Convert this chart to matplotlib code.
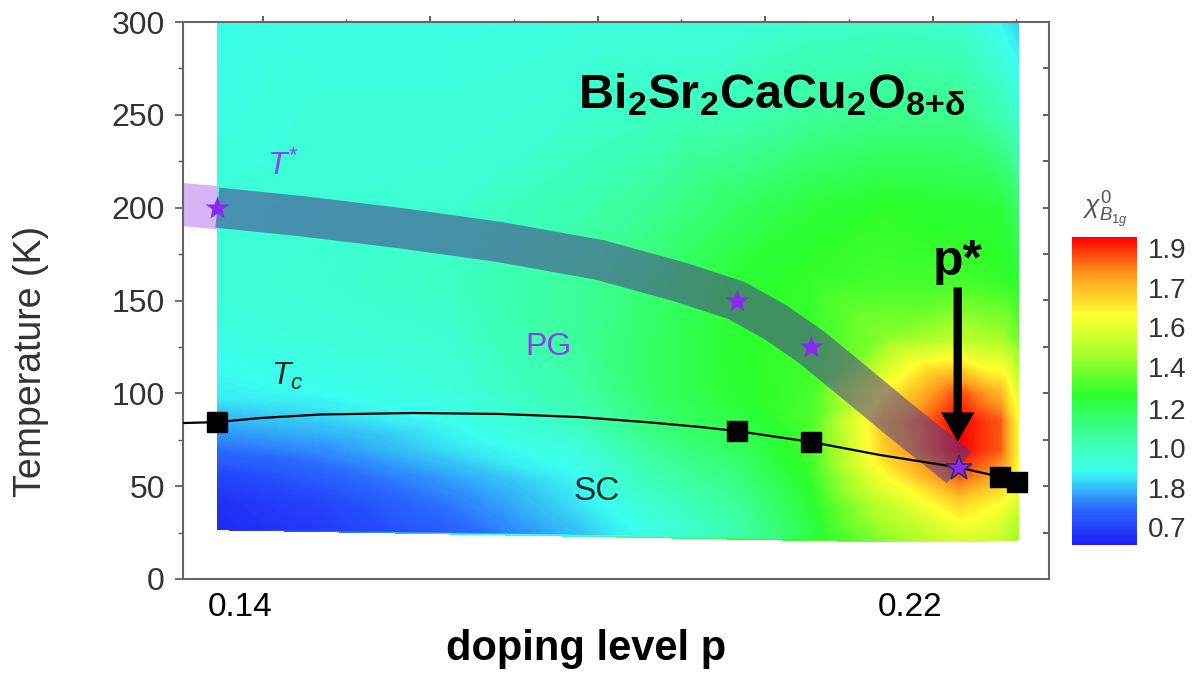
import numpy as np
import matplotlib.pyplot as plt
import matplotlib.tri as mtri
from matplotlib.colors import LinearSegmentedColormap
from matplotlib.ticker import MultipleLocator

plt.rcParams['font.family'] = ['Liberation Sans', 'DejaVu Sans']
plt.rcParams['mathtext.fontset'] = 'custom'
plt.rcParams['mathtext.rm'] = 'Liberation Sans'
plt.rcParams['mathtext.it'] = 'Liberation Sans:italic'
plt.rcParams['mathtext.bf'] = 'Liberation Sans:bold'

# chi_B1g map: doping columns, temperature rows (first row = lowest measured T per column)
chi_p = [0.1373, 0.150, 0.165, 0.180, 0.190, 0.1993, 0.2082, 0.217, 0.2259, 0.2308, 0.2329]
chi_bottom = [26.5, 26, 25, 24, 23, 22, 21, 20, 20, 21, 21]
chi_T = [40, 55, 70, 85, 100, 130, 160, 200, 250, 300]
# one list per doping column, from lowest T upward
chi_cols = [
    [0.63, 0.64, 0.68, 0.77, 0.85, 0.92, 0.96, 0.98, 0.98, 0.96, 0.95],
    [0.66, 0.68, 0.74, 0.81, 0.88, 0.94, 0.98, 1.00, 0.99, 0.98, 0.96],
    [0.74, 0.78, 0.83, 0.90, 0.94, 0.97, 1.00, 1.02, 1.00, 0.98, 0.96],
    [0.86, 0.90, 0.93, 0.97, 1.03, 1.07, 1.10, 1.10, 1.06, 1.00, 0.97],
    [0.96, 1.00, 1.06, 1.12, 1.17, 1.20, 1.20, 1.18, 1.12, 1.03, 0.97],
    [1.06, 1.10, 1.15, 1.20, 1.24, 1.27, 1.28, 1.27, 1.20, 1.05, 0.98],
    [1.24, 1.27, 1.30, 1.32, 1.33, 1.32, 1.30, 1.30, 1.26, 1.10, 1.01],
    [1.42, 1.52, 1.64, 1.74, 1.76, 1.66, 1.42, 1.32, 1.29, 1.13, 1.02],
    [1.56, 1.72, 1.90, 2.00, 2.00, 1.92, 1.50, 1.32, 1.27, 1.13, 1.00],
    [1.52, 1.64, 1.78, 1.90, 1.90, 1.78, 1.46, 1.30, 1.26, 1.06, 0.93],
    [1.44, 1.54, 1.62, 1.66, 1.65, 1.58, 1.38, 1.27, 1.19, 1.00, 0.88],
]

# Tc dome (black line) and measured Tc points
tc_p = [0.1300, 0.1332, 0.1373, 0.1424, 0.1496, 0.1607, 0.1710, 0.1806, 0.1890,
        0.1949, 0.1993, 0.2082, 0.2164, 0.2259, 0.2308, 0.2328]
tc_T = [83.2, 84.0, 84.5, 86.7, 88.6, 89.4, 88.9, 87.2, 84.3,
        81.9, 79.7, 73.8, 66.8, 60.0, 55.0, 52.2]
sq_p = [0.1373, 0.1993, 0.2082, 0.2308, 0.2328]
sq_T = [84.5, 79.7, 73.8, 55.0, 52.2]

# T* band centre line and T* points (last one is p*)
band_p = [0.1300, 0.1373, 0.1472, 0.1591, 0.1710, 0.1830, 0.1925, 0.1993,
          0.2039, 0.2082, 0.2128, 0.2188, 0.2259]
band_T = [203, 200, 195.5, 189, 181.5, 171.8, 160, 150, 138.4, 125, 108, 85.6, 60]
star_p = [0.1373, 0.1993, 0.2082, 0.2259]
star_T = [200, 150, 125, 60]

cbar_tick_pos = [0.68, 0.86, 1.04, 1.22, 1.41, 1.59, 1.77, 1.95]
cbar_labels = ['0.7', '1.8', '1.0', '1.2', '1.4', '1.6', '1.7', '1.9']

cmap = LinearSegmentedColormap.from_list('chi', [
    (0.00, '#1e1ef5'), (0.12, '#2a6cff'), (0.24, '#3cfff0'), (0.36, '#3cff9a'),
    (0.49, '#2cff2c'), (0.62, '#a8ff2a'), (0.75, '#ffff30'), (0.88, '#ff9a1e'),
    (1.00, '#ff0000')])

fig = plt.figure(figsize=(11.93, 6.74), dpi=100)
ax = fig.add_axes([183 / 1193, 95 / 674, 866 / 1193, 557 / 674])
cax = fig.add_axes([1072 / 1193, 129 / 674, 65 / 1193, 308 / 674])

pp, tt, vv = [], [], []
for j, p in enumerate(chi_p):
    for i, t in enumerate([chi_bottom[j]] + chi_T):
        pp.append(p)
        tt.append(t)
        vv.append(chi_cols[j][i])
pp, tt, vv = np.array(pp), np.array(tt), np.array(vv)
# triangulate in screen-like units so triangles are not squashed
tri = mtri.Triangulation(pp * 8375, tt * 1.857)
tri = mtri.Triangulation(pp, tt, tri.triangles)
cs = ax.tricontourf(tri, vv, levels=np.linspace(0.6, 2.0, 281), cmap=cmap, zorder=1)

# T* band: light part outside the map, translucent part on top of it
ax.plot(band_p, band_T, color='#d6b4f6', lw=31, solid_capstyle='butt',
        solid_joinstyle='round', zorder=0.5)
ax.plot(band_p[1:], band_T[1:], color=(0.30, 0.22, 0.55), alpha=0.55, lw=29,
        solid_capstyle='butt', solid_joinstyle='round', zorder=2)

ax.plot(tc_p, tc_T, color='k', lw=1.6, zorder=3)
ax.plot(sq_p, sq_T, 's', color='k', ms=14, zorder=4)
ax.plot(star_p[:-1], star_T[:-1], '*', color='#8a2af0', ms=18, mec='none', zorder=5)
ax.plot(star_p[-1:], star_T[-1:], '*', color='#8a2af0', ms=19, mec='#3b2a66',
        mew=1.2, zorder=5)

# arrow marking p*
ax.annotate('', xy=(star_p[-1] - 0.0002, star_T[-1] + 14),
            xytext=(star_p[-1] - 0.0002, star_T[-1] + 97),
            arrowprops=dict(arrowstyle='simple,head_length=0.7,head_width=0.8,tail_width=0.2',
                            color='k', lw=0, shrinkA=0, shrinkB=0, mutation_scale=30),
            zorder=6)
ax.text(star_p[-1] - 0.0002, 171, 'p*', fontsize=36, fontweight='bold',
        ha='center', va='center', zorder=6)

ax.text(0.456, 0.846, r'$\mathbf{Bi_2Sr_2CaCu_2O_{8{+}\delta}}$', transform=ax.transAxes,
        fontsize=35, ha='left', va='baseline', zorder=6)
ax.text(0.1451, 222, r'$T^{*}$', fontsize=23, color='#8b45f0', ha='center', va='center')
ax.text(0.1456, 109, r'$T_c$', fontsize=23, color='#1a2a2a', ha='center', va='center')
ax.text(0.1768, 125, 'PG', fontsize=23, color='#8a3cf0', ha='center', va='center')
ax.text(0.1826, 47, 'SC', fontsize=24, color='#1a2a30', ha='center', va='center')

ax.set_xlim(0.1332, 0.2366)
ax.set_ylim(0, 300)
ax.set_yticks(range(0, 301, 50))
ax.yaxis.set_minor_locator(MultipleLocator(25))
ax.tick_params(axis='y', which='major', direction='out', length=6, width=1.2,
               color='#555555', labelsize=23, labelcolor='#333333', pad=7)
ax.tick_params(axis='y', which='minor', direction='out', length=3.5, width=1.0, color='#555555')
ax.set_xticks([0.14, 0.22])
ax.set_xticklabels(['0.14', '0.22'], family=['Liberation Sans Narrow', 'Liberation Sans'])
ax.tick_params(axis='x', which='both', length=0, labelsize=24, pad=9)
for s in ax.spines.values():
    s.set_color('#666666')
    s.set_linewidth(1.5)

top = ax.secondary_xaxis('top', functions=(lambda x: x - 0.0027, lambda x: x + 0.0027))
top.set_xticks([0.14, 0.16, 0.18, 0.20, 0.22])
top.xaxis.set_minor_locator(MultipleLocator(0.01))
top.tick_params(which='major', direction='inout', length=8, width=1.2, color='#444444',
                labeltop=False)
top.tick_params(which='minor', direction='inout', length=4, width=1.0, color='#444444')
top.spines['top'].set_visible(False)

right = ax.secondary_yaxis('right')
right.set_yticks(range(25, 300, 25))
right.tick_params(direction='in', length=4, width=1.2, color='#444444', labelright=False)
right.spines['right'].set_visible(False)

ax.set_ylabel('Temperature (K)', fontsize=27, color='#333333')
ax.yaxis.set_label_coords(-0.155, 0.39)
ax.set_xlabel('doping level p', fontsize=30, fontweight='bold',
              family=['Liberation Sans Narrow', 'Liberation Sans'])
ax.xaxis.set_label_coords(0.465, -0.09)

cbar = fig.colorbar(cs, cax=cax, ticks=cbar_tick_pos)
cbar.set_ticklabels(cbar_labels)
cbar.outline.set_visible(False)
cax.tick_params(length=0, labelsize=20, pad=8, labelcolor='#333333')
fig.text(1105 / 1193, 1 - 210 / 674, r'$\chi^0_{B_{1g}}$', ha='center', va='center',
         fontsize=19, color='#555555')

fig.savefig('out.png', dpi=100)
